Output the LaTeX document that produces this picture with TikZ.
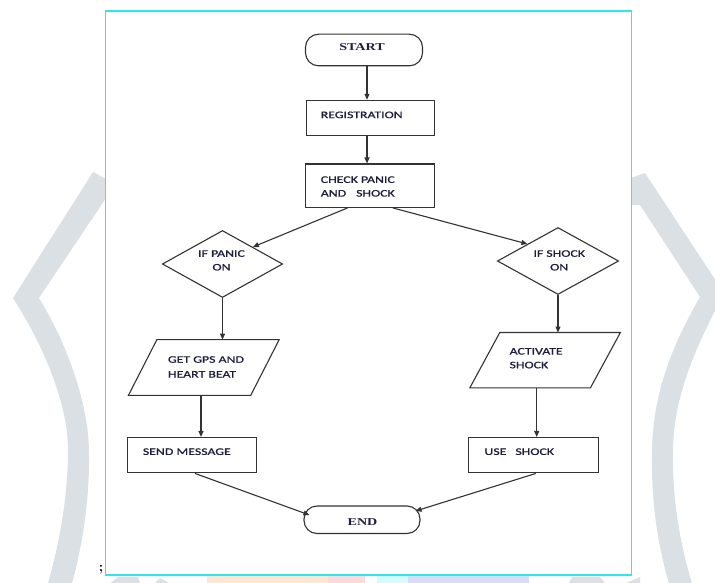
\documentclass[tikz,border=0pt]{standalone}
\usepackage{fontspec}
\newfontfamily\labfont[FakeStretch=1.38,FakeBold=1]{Carlito}
\newfontfamily\ttlfont[FakeStretch=1.34]{Liberation Serif}
\usetikzlibrary{shapes.geometric,arrows.meta}
\definecolor{ink}{HTML}{333333}
\definecolor{txt}{HTML}{1E1E3C}
\definecolor{framec}{HTML}{2EE6EE}
\definecolor{wm}{HTML}{DAE0E4}
\definecolor{wmorange}{HTML}{FDE7D3}
\definecolor{wmpink}{HTML}{FCDADA}
\definecolor{wmcyan}{HTML}{D5FBFB}
\definecolor{wmblue}{HTML}{D6DDF5}
\begin{document}
\begin{tikzpicture}[x=1pt,y=-1pt,
  shapeline/.style={draw=ink, line width=1.1pt},
  box/.style={shapeline, rectangle, inner sep=0pt},
  term/.style={shapeline, rectangle, rounded corners=13pt, inner sep=0pt},
  dec/.style={shapeline, diamond, inner sep=0pt},
  para/.style={rectangle, inner sep=0pt},
  lab/.style={inner sep=0pt, text=txt, font=\labfont\fontsize{10}{13.7}\selectfont},
  ttl/.style={inner sep=0pt, text=txt, font=\ttlfont\bfseries\fontsize{10.5}{12}\selectfont},
  arr/.style={draw=ink, line width=1.1pt, -{Triangle[length=6pt,width=5pt]}},
]
\useasboundingbox (0,0) rectangle (715,583);
\clip (0,0) rectangle (715,583);
% watermark
\fill[wm] (93,172) -- (13,298) .. controls (40,340) and (68,400) .. (68,450)
  .. controls (68,500) and (58,550) .. (46,590) -- (70,590)
  .. controls (82,550) and (90,500) .. (89,450)
  .. controls (88,400) and (65,340) .. (39,298) -- (108,195) -- (108,180) -- cycle;
\fill[wm] (645,173) -- (724,293) .. controls (700,340) and (674,390) .. (673,450)
  .. controls (672,500) and (680,545) .. (694,590) -- (671,590)
  .. controls (657,545) and (651,500) .. (652,450)
  .. controls (653,390) and (675,340) .. (700,297) -- (640,205) -- (625,205) -- (625,180) -- cycle;
\fill[wm] (110,583) -- (118,577) -- (138,577) -- (140,583) -- cycle;
\fill[wm] (155,583) -- (160,578) -- (169,583) -- cycle;
\fill[wm] (569,583) -- (572,577) -- (600,577) -- (605,583) -- cycle;
\fill[wm] (626,583) -- (640,577) -- (640,583) -- cycle;
\fill[wmorange] (207,576) rectangle (328,583);
\fill[wmpink] (328,576) rectangle (365,583);
\fill[wmcyan] (377,576) rectangle (408,583);
\fill[wmblue] (408,576) rectangle (529,583);
% frame
\draw[framec, line width=1.5pt, fill=white] (105.5,11) rectangle (631.5,575);
\node[inner sep=0pt, font=\fontsize{14}{14}\selectfont\bfseries] (semi) at (101,570) {;};
% nodes
\node[term, minimum width=117, minimum height=31.6] (start) at (364,50) {};
\node[box, minimum width=128, minimum height=35.3] (reg) at (370.5,118) {};
\node[box, minimum width=129, minimum height=43.4] (chk) at (370,185.7) {};
\node[dec, minimum width=120.4, minimum height=67] (d1) at (222.5,264) {};
\node[dec, minimum width=121.3, minimum height=67] (d2) at (558,261) {};
\node[para, minimum width=150.4, minimum height=55.4] (gps) at (203.8,367.5) {};
\node[para, minimum width=150.2, minimum height=55] (act) at (545.1,360.2) {};
\draw[shapeline] ([xshift=28.5pt]gps.north west) -- (gps.north east)
  -- ([xshift=-28.5pt]gps.south east) -- (gps.south west) -- cycle;
\draw[shapeline] ([xshift=30pt]act.north west) -- (act.north east)
  -- ([xshift=-30pt]act.south east) -- (act.south west) -- cycle;
\node[box, minimum width=129, minimum height=35.4] (send) at (192.2,455.2) {};
\node[box, minimum width=129.5, minimum height=35.4] (use) at (533.5,455.2) {};
\node[term, minimum width=116, minimum height=27.5] (end) at (362,519.75) {};
% labels
\node[ttl] (startt) at (362,47.5) {START};
\node[lab, anchor=west] (regt) at (320.6,114.9) {REGISTRATION};
\node[lab, anchor=west, align=left] (chkt) at (320.6,186.5) {CHECK PANIC\\AND\hspace{10pt}SHOCK};
\node[lab, align=center] (d1t) at (221.5,260.4) {IF PANIC\\ON};
\node[lab, align=center] (d2t) at (559.2,260.4) {IF SHOCK\\ON};
\node[lab, anchor=west, align=left] (gpst) at (167.8,366.9) {GET GPS AND\\[1.1pt]HEART BEAT};
\node[lab, anchor=west, align=left] (actt) at (509.4,358.2) {ACTIVATE\\SHOCK};
\node[lab, anchor=west] (sendt) at (142.7,451.7) {SEND MESSAGE};
\node[lab, anchor=west] (uset) at (484.3,451.7) {USE\hspace{9pt}SHOCK};
\node[ttl] (endt) at (362.5,521.7) {END};
% connectors
\draw[arr] ([xshift=3pt]start.south) -- ([xshift=-3.5pt]reg.north);
\draw[arr] ([xshift=-3.5pt]reg.south) -- ([xshift=-3pt]chk.north);
\draw[arr] ([xshift=-22.5pt]chk.south) -- (d1.north east);
\draw[arr] ([xshift=23pt]chk.south) -- (d2.north west);
\draw[arr] (d1.south) -- (d1.south |- gps.north);
\draw[arr] (d2.south) -- (d2.south |- act.north);
\draw[arr] ([xshift=-2.8pt]gps.south) -- ([xshift=-2.8pt]gps.south |- send.north);
\draw[arr] ([xshift=-8.4pt]act.south) -- ([xshift=-8.4pt]act.south |- use.north);
\draw[arr] ([xshift=2.8pt]send.south) -- ([xshift=6pt,yshift=4.75pt]end.west);
\draw[arr] ([xshift=2.3pt]use.south) -- ([xshift=-5pt,yshift=8.75pt]end.east);
\end{tikzpicture}
\end{document}
